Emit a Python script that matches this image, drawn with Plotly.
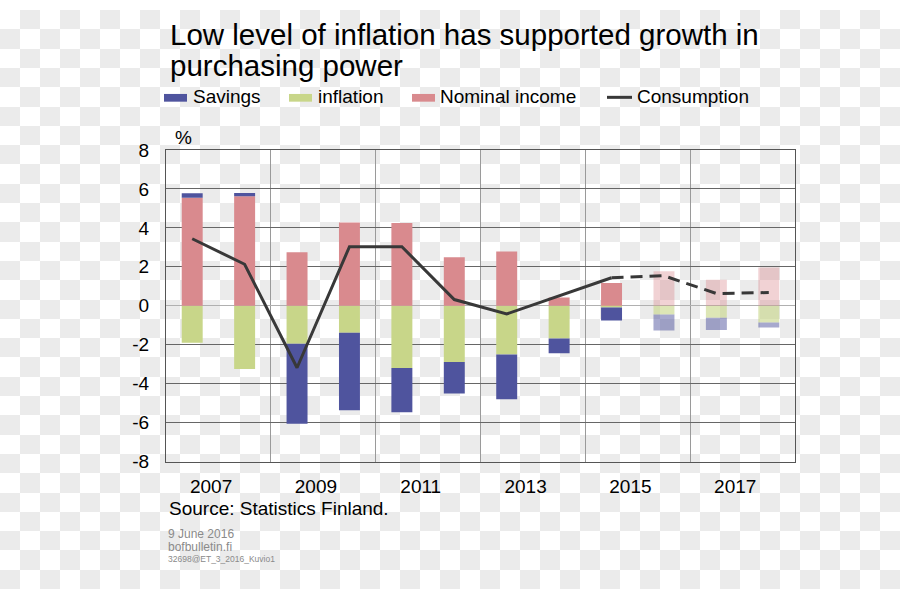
import plotly.graph_objects as go

# ---------------- data ----------------
years = list(range(2007, 2019))
nominal_income = [5.55, 5.62, 2.75, 4.28, 4.25, 2.49, 2.78, 0.42, 1.17, 1.77, 1.34, 1.96]
inflation = [-1.90, -3.24, -1.95, -1.39, -3.19, -2.88, -2.50, -1.68, -0.09, -0.45, -0.62, -0.86]
savings = [0.22, 0.17, -4.10, -3.97, -2.27, -1.62, -2.30, -0.76, -0.66, -0.82, -0.62, -0.26]
consumption = [3.44, 2.13, -3.18, 3.03, 3.03, 0.32, -0.42, 0.49, 1.44, 1.54, 0.63, 0.68]
forecast_from = 2016
label_years = [2007, 2009, 2011, 2013, 2015, 2017]
y_ticks = [-8, -6, -4, -2, 0, 2, 4, 6, 8]

title_lines = ["Low level of inflation has supported growth in", "purchasing power"]
legend_names = ["Savings", "inflation", "Nominal income", "Consumption"]
source_text = "Source: Statistics Finland."
footer_lines = ["9 June 2016", "bofbulletin.fi", "32698@ET_3_2016_Kuvio1"]

# ---------------- styling ----------------
FONT = "Liberation Sans, Arial, sans-serif"
W, H = 900, 600
BLUE = (79, 84, 158)
GREEN = (200, 214, 137)
PINK = (217, 138, 142)
LINE = "#383838"


def px(x):
    return x / W


def py(y):
    return 1 - y / H


def rgba(c, a=1.0):
    return f"rgba({c[0]},{c[1]},{c[2]},{a})"


def colors(c, light_alpha):
    return [rgba(c) if y < forecast_from else rgba(c, light_alpha) for y in years]


fig = go.Figure()

# checkerboard backdrop (transparent-image texture)
cols, rows = 45, 30
checker = [[(r + c) % 2 for c in range(cols)] for r in range(rows)]
fig.add_trace(go.Heatmap(z=checker, colorscale=[[0, "#ffffff"], [1, "#ebebeb"]],
                         zmin=0, zmax=1, showscale=False, hoverinfo="skip",
                         xaxis="x", yaxis="y"))

bar_w = 0.4
fig.add_trace(go.Bar(x=years, y=inflation, width=bar_w, name=legend_names[1],
                     marker=dict(color=colors(GREEN, 0.62), line=dict(width=0)),
                     xaxis="x2", yaxis="y2", showlegend=False))
fig.add_trace(go.Bar(x=years, y=nominal_income, width=bar_w, name=legend_names[2],
                     marker=dict(color=colors(PINK, 0.38), line=dict(width=0)),
                     xaxis="x2", yaxis="y2", showlegend=False))
fig.add_trace(go.Bar(x=years, y=savings, width=bar_w, name=legend_names[0],
                     marker=dict(color=colors(BLUE, 0.5), line=dict(width=0)),
                     xaxis="x2", yaxis="y2", showlegend=False))

solid_idx = [i for i, y in enumerate(years) if y < forecast_from]
dash_idx = [i for i, y in enumerate(years) if y >= forecast_from - 1]
fig.add_trace(go.Scatter(x=[years[i] for i in solid_idx], y=[consumption[i] for i in solid_idx],
                         mode="lines", line=dict(color=LINE, width=3),
                         xaxis="x2", yaxis="y2", showlegend=False, name=legend_names[3]))
fig.add_trace(go.Scatter(x=[years[i] for i in dash_idx], y=[consumption[i] for i in dash_idx],
                         mode="lines", line=dict(color=LINE, width=3, dash="12px,7px"),
                         xaxis="x2", yaxis="y2", showlegend=False, name=legend_names[3]))

grid_x = [y + 0.5 for y in years[1:-1:2]]

annotations = [
    dict(text=title_lines[0], x=px(168), y=py(25), xanchor="left", yanchor="middle",
         font=dict(size=29.5, color="#000000", family=FONT)),
    dict(text=title_lines[1], x=px(168), y=py(58), xanchor="left", yanchor="middle",
         font=dict(size=29.5, color="#000000", family=FONT)),
    dict(text="%", x=px(173), y=py(132), xanchor="left", yanchor="middle",
         font=dict(size=19, color="#000000", family=FONT)),
    dict(text=source_text, x=px(167), y=py(517), xanchor="left", yanchor="middle",
         font=dict(size=19, color="#000000", family=FONT)),
    dict(text=footer_lines[0], x=px(166), y=py(543), xanchor="left", yanchor="middle",
         font=dict(size=12, color="#8a8a8a", family=FONT)),
    dict(text=footer_lines[1], x=px(166), y=py(556), xanchor="left", yanchor="middle",
         font=dict(size=12, color="#8a8a8a", family=FONT)),
    dict(text=footer_lines[2], x=px(166), y=py(569), xanchor="left", yanchor="middle",
         font=dict(size=8.5, color="#8a8a8a", family=FONT)),
]

# manual legend
legend_items = [
    (legend_names[0], "rect", rgba(BLUE), 164, 187, 191),
    (legend_names[1], "rect", rgba(GREEN), 289, 312, 316),
    (legend_names[2], "rect", rgba(PINK), 412, 435, 438),
    (legend_names[3], "line", LINE, 607, 632, 635),
]
shapes = []
for name, kind, col, x0, x1, tx in legend_items:
    if kind == "rect":
        shapes.append(dict(type="rect", xref="paper", yref="paper", x0=px(x0), x1=px(x1),
                           y0=py(95), y1=py(87), fillcolor=col, line=dict(width=0)))
    else:
        shapes.append(dict(type="line", xref="paper", yref="paper", x0=px(x0), x1=px(x1),
                           y0=py(90.5), y1=py(90.5), line=dict(color=col, width=3)))
    annotations.append(dict(text=name, x=px(tx), y=py(90), xanchor="left", yanchor="middle",
                            font=dict(size=19, color="#000000", family=FONT)))

for a in annotations:
    a.update(xref="paper", yref="paper", showarrow=False)

fig.update_layout(
    width=W, height=H,
    margin=dict(l=0, r=0, t=0, b=0),
    paper_bgcolor="#ffffff",
    plot_bgcolor="rgba(0,0,0,0)",
    barmode="relative",
    font=dict(family=FONT, color="#000000"),
    showlegend=False,
    xaxis=dict(domain=[0, 1], range=[-0.5, cols - 0.5], visible=False, fixedrange=True),
    yaxis=dict(domain=[0, 1], range=[rows - 0.5, -0.5], visible=False, fixedrange=True),
    xaxis2=dict(domain=[px(166), px(795)], anchor="y2", range=[years[0] - 0.5, years[-1] + 0.5],
                tickmode="array", tickvals=[y + 0.36 for y in label_years],
                ticktext=[str(y) for y in label_years], ticks="", showgrid=False,
                zeroline=False, showline=True, mirror=True, linecolor="#555555", linewidth=1,
                tickfont=dict(size=19, color="#000000", family=FONT), ticklabelstandoff=8,
                minor=dict(tickmode="array", tickvals=grid_x, showgrid=True,
                           gridcolor="#9a9a9a", gridwidth=1, ticks="")),
    yaxis2=dict(domain=[py(468), py(145)], anchor="x2", range=[-8, 8],
                tickmode="array", tickvals=y_ticks, ticktext=[str(v) for v in y_ticks],
                ticks="", showgrid=True, gridcolor="#666666", gridwidth=1,
                zeroline=True, zerolinecolor="#b0b0b0", zerolinewidth=1,
                showline=True, mirror=True, linecolor="#555555", linewidth=1,
                tickfont=dict(size=19, color="#000000", family=FONT), ticklabelstandoff=12),
    annotations=annotations,
    shapes=shapes,
)

fig.write_html("out.html")
